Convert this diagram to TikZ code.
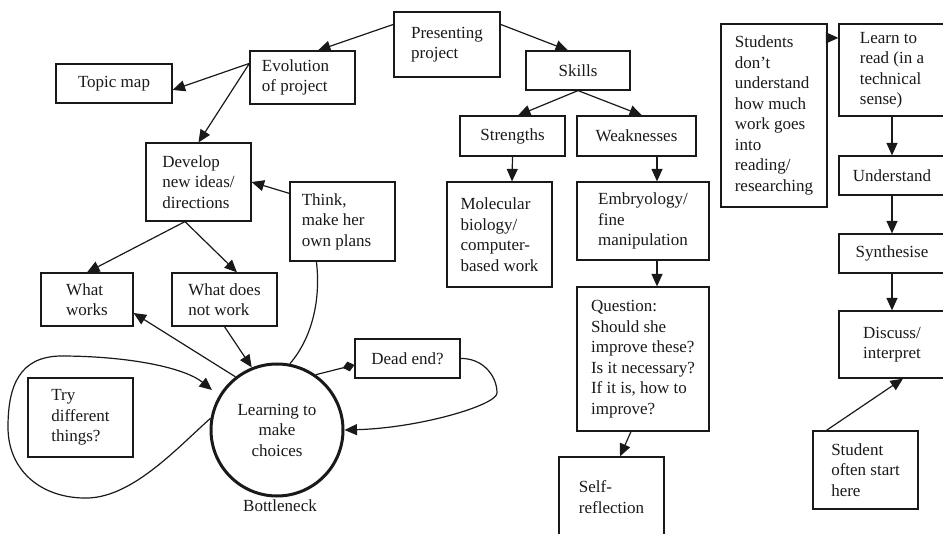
\documentclass[tikz,border=0pt]{standalone}
\usepackage{fontspec}
\setmainfont{Liberation Serif}
\usetikzlibrary{arrows.meta}
\begin{document}
\begin{tikzpicture}[x=1pt, y=-1pt,
  font=\fontsize{17}{20.5}\selectfont,
  line width=1.2pt, draw=black!90, text=black!90,
  bx/.style 2 args={draw, align=left, inner sep=0pt,
    minimum width=#1pt, minimum height=#2pt},
  arr/.style={-{Triangle[length=12.5pt,width=11pt]}},
  dia/.style={-{Diamond[length=12pt,width=10pt]}}]
\useasboundingbox (0,0) rectangle (943,534);
\clip (0,0) rectangle (943,534);

% left branch
\node[bx={106}{65}]  (pres)  at (447,44.5)  {Presenting\\project};
\node[bx={105}{53}]  (evol)  at (302.5,77.5) {Evolution\kern14pt\\of project};
\node[bx={116}{39}]  (topic) at (114,83.5)  {Topic map};
\node[bx={105}{78}]  (dev)   at (198.5,182) {Develop\\new ideas/\\directions};
\node[bx={105}{79}]  (think) at (342.5,221.5) {Think,\\make her\\own plans\kern12pt};
\node[bx={92}{53}]   (works) at (87,299.5)  {What\\works};
\node[bx={105}{53}]  (nwork) at (224.5,299.5) {What does\\not work};
\node[bx={105}{79}]  (try)   at (80.5,417.5) {Try\\different\\things?};
\node[bx={105}{39}]  (dead)  at (407.5,358.5) {Dead end?};
\node[draw, circle, line width=3pt, inner sep=0pt, minimum size=132pt, align=center]
  (choice) at (277,430) {Learning to\\make\\choices};
\node (bneck) at (280,506) {Bottleneck};

% skills branch
\node[bx={104}{39}]  (skills) at (578,70.5) {Skills};
\node[bx={105}{40}]  (str)    at (512.5,136) {Strengths};
\node[bx={119}{40}]  (weak)   at (636.5,136) {Weaknesses};
\node[bx={105}{105}] (mol)    at (499.5,234.5) {Molecular\\biology/\\computer-\\based work};
\node[bx={132}{78}]  (emb)    at (643,221) {Embryology/\\fine\\manipulation};
\node[bx={132}{144}] (quest)  at (643,359) {Question:\\Should she\\improve these?\\Is it necessary?\\If it is, how to\\improve?};
\node[bx={105}{80}]  (self)   at (611.5,497) {Self-\\reflection};

% reading column
\node[bx={106}{183}] (stu)    at (774,115.5) {Students\\don’t\\understand\\how much\\work goes\\into\\reading/\\researching};
\node[bx={106}{92}]  (learn)  at (892,70) {Learn to\\read (in a\\technical\\sense)};
\node[bx={106}{39}]  (und)    at (892,175.5) {Understand};
\node[bx={106}{39}]  (syn)    at (892,253.5) {Synthesise};
\node[bx={106}{67}]  (disc)   at (892,344.5) {Discuss/\\interpret};
\node[bx={105}{78}]  (often)  at (865.5,470) {Student\\often start\\here};

% connectors of the left branch
\draw[arr] ([yshift=-13pt]pres.north west) -- ([xshift=15.5pt]evol.north);
\draw[arr] ([yshift=-13pt]evol.north west) -- ([yshift=-6.5pt]topic.east);
\draw[arr] ([yshift=-13pt]evol.north west) -- (dev.north);
\draw[arr] ([yshift=-12pt]think.north west) -- (dev.east);
\draw[arr] ([xshift=-13.5pt]dev.south) -- (works.north);
\draw[arr] ([xshift=-13.5pt]dev.south) -- ([xshift=12.5pt]nwork.north);
\draw[arr] (nwork.south) -- (choice.112);
\draw[arr] (choice.128) -- ([yshift=-13.5pt]works.east);
\draw[dia] (choice.55) -- ([yshift=-6.5pt]dead.west);
\draw ([xshift=27pt]think.south west) .. controls (321,300) and (312,338) .. (choice.79);
\draw[arr] (dead.east) .. controls (482,358) and (497,375) .. (497,393)
  .. controls (497,405) and (420,428) .. (choice.east);
\coordinate (loopend) at (212,390);
\draw[arr] (choice.170) .. controls (175,450) and (130,500) .. (83,498)
  .. controls (40,497) and (8,470) .. (8,427)
  .. controls (8,385) and (20,357) .. (60,356)
  .. controls (130,356) and (185,368) .. (loopend);

% connectors of the skills branch
\draw[arr] ([yshift=-13pt]pres.north east) -- ([xshift=-10pt]skills.north);
\draw[arr] (skills.south) -- ([xshift=5.5pt]str.north);
\draw[arr] (skills.south) -- ([xshift=5.5pt]weak.north);
\draw[arr] (str.south) -- ([xshift=12.5pt]mol.north);
\draw[arr] ([xshift=14pt]emb.north |- weak.south) -- ([xshift=14pt]emb.north);
\draw[arr] ([xshift=14pt]emb.south) -- ([xshift=14pt]quest.north);
\draw[arr] ([xshift=-12pt]quest.south) -- ([xshift=8.5pt]self.north);

% connectors of the reading column
\draw[arr] ([yshift=-14.5pt]stu.north east) -- ([yshift=-14.5pt]learn.north west);
\draw[arr] (learn.south) -- (und.north);
\draw[arr] (und.south) -- (syn.north);
\draw[arr] (syn.south) -- (disc.north);
\draw[arr] ([xshift=14pt]often.north west) -- ([xshift=11pt]disc.south);
\end{tikzpicture}
\end{document}
